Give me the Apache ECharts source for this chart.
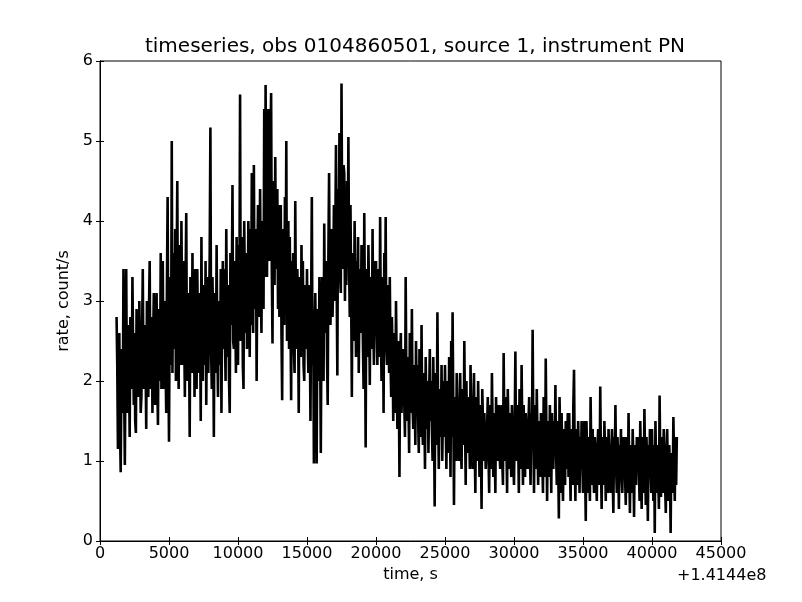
<!DOCTYPE html>
<html>
<head>
<meta charset="utf-8">
<script src="https://cdn.jsdelivr.net/npm/echarts@6/dist/echarts.min.js"></script>
<style>
html,body{margin:0;padding:0;background:#fff;}
#chart{width:802px;height:602px;}
</style>
</head>
<body>
<div id="chart"></div>
<script>
// time bins (s, relative to +1.4144e8)
const tStart = 1200;
const tStep = 50;
// count rate values (count/s), one per 50 s bin (one array per ~1000 s)
const rate01 = [2.8, 2.2, 1.15, 2.5, 2.6, 1.4, 0.86, 2.0, 2.4, 1.6, 3.4, 1.9, 0.95, 2.3, 3.4, 1.8];
const rate02 = [1.6, 2.7, 2.2, 1.3, 2.8, 2.0, 1.9, 3.3, 2.4, 1.7, 2.6, 1.5, 1.35, 2.9, 2.1, 2.5, 1.8, 3.0, 2.3, 1.6];
const rate03 = [1.8, 2.6, 3.4, 2.0, 1.9, 2.7, 2.3, 1.4, 3.0, 2.2, 1.8, 2.9, 3.5, 1.9, 2.0, 2.8, 1.6, 2.5, 3.1, 2.1];
const rate04 = [1.7, 2.7, 3.1, 2.0, 1.45, 2.9, 2.4, 2.0, 3.6, 1.9, 2.6, 3.5, 1.9, 2.8, 3.0, 2.2, 1.6, 3.2, 4.3, 2.3];
const rate05 = [1.24, 2.9, 3.3, 2.2, 5.0, 2.1, 3.6, 2.7, 2.4, 3.9, 2.0, 3.3, 4.5, 2.6, 1.9, 3.7, 3.4, 2.2, 4.0, 2.8];
const rate06 = [2.2, 3.5, 2.6, 1.8, 3.2, 4.1, 2.3, 2.0, 3.1, 2.5, 1.3, 3.3, 2.7, 2.1, 3.6, 2.4, 3.0, 1.8, 3.4, 2.6];
const rate07 = [1.9, 3.4, 2.5, 2.1, 3.1, 2.7, 1.5, 3.8, 2.3, 2.0, 3.2, 2.6, 2.2, 3.5, 1.7, 2.9, 3.3, 2.1, 2.8, 3.6];
const rate08 = [5.17, 2.4, 1.9, 3.3, 2.6, 1.3, 3.1, 2.3, 2.1, 3.7, 2.5, 1.8, 3.0, 2.7, 2.2, 3.4, 1.6, 2.9, 3.5, 2.4];
const rate09 = [3.4, 2.6, 2.0, 3.9, 2.8, 2.3, 3.2, 2.0, 1.6, 3.6, 2.7, 3.1, 4.45, 2.5, 2.4, 3.5, 2.9, 2.1, 3.8, 2.6];
const rate10 = [2.2, 3.7, 3.0, 5.58, 2.5, 2.9, 3.8, 2.2, 1.9, 4.0, 3.1, 2.6, 3.6, 2.4, 2.8, 4.0, 3.3, 2.3, 3.9, 2.7];
const rate11 = [4.6, 3.0, 2.6, 4.7, 2.9, 3.4, 3.9, 2.0, 3.5, 4.2, 2.8, 3.0, 4.4, 3.2, 2.6, 4.0, 3.6, 2.9, 5.4, 3.3];
const rate12 = [5.7, 3.8, 3.3, 4.6, 5.4, 3.6, 3.5, 4.9, 5.6, 3.4, 2.47, 4.5, 4.0, 3.2, 4.8, 3.4, 3.9, 4.4, 2.9, 4.2];
const rate13 = [2.8, 3.7, 4.2, 2.6, 1.76, 3.9, 3.1, 2.7, 4.3, 3.0, 5.0, 2.5, 3.3, 4.0, 2.4, 3.8, 2.9, 1.76, 3.5, 3.0];
const rate14 = [3.6, 2.4, 2.1, 4.25, 2.8, 2.4, 3.4, 2.9, 1.6, 3.3, 2.6, 2.3, 3.7, 2.7, 3.5, 2.2, 2.0, 3.2, 2.8, 2.4];
const rate15 = [3.4, 2.5, 2.1, 3.2, 2.7, 1.5, 3.0, 4.3, 2.2, 2.9, 0.97, 2.6, 3.1, 2.2, 0.97, 2.8, 2.9, 2.0, 3.3, 2.5];
const rate16 = [1.1, 2.7, 3.3, 2.4, 2.0, 3.97, 2.6, 3.1, 3.5, 2.3, 1.7, 3.6, 4.6, 2.9, 2.7, 3.5, 3.9, 2.8, 3.3, 4.2];
const rate17 = [3.0, 3.8, 4.95, 3.2, 2.07, 4.4, 3.6, 5.1, 3.3, 3.1, 5.72, 3.9, 3.4, 4.7, 4.6, 3.0, 4.1, 3.2, 4.5, 3.6];
const rate18 = [5.05, 3.4, 2.8, 4.2, 3.1, 1.8, 3.6, 2.9, 2.5, 4.0, 3.2, 2.3, 3.5, 2.7, 3.8, 2.1, 3.0, 3.4, 2.6, 3.7];
const rate19 = [3.6, 2.5, 1.9, 4.1, 2.8, 1.17, 3.4, 2.7, 2.3, 3.7, 3.0, 1.95, 3.3, 2.6, 2.4, 3.9, 2.8, 2.2, 3.5, 2.9];
const rate20 = [3.5, 2.6, 2.2, 3.4, 2.9, 2.3, 4.05, 2.7, 2.0, 3.3, 2.8, 1.6, 3.6, 2.5, 4.05, 2.4, 2.2, 3.2, 2.8, 2.1];
const rate21 = [3.3, 2.3, 1.8, 2.8, 2.4, 1.5, 2.6, 2.1, 1.6, 3.0, 2.2, 1.4, 2.5, 2.0, 0.8, 2.3, 2.6, 1.6, 2.1, 1.9];
const rate22 = [2.4, 1.7, 1.3, 3.3, 2.0, 1.5, 2.3, 1.8, 1.1, 2.6, 2.0, 1.6, 2.9, 1.7, 1.4, 2.2, 1.9, 1.2, 2.5, 1.8];
const rate23 = [2.2, 1.6, 1.1, 2.4, 1.8, 1.3, 2.7, 1.5, 1.2, 2.1, 1.7, 0.9, 2.3, 1.6, 1.4, 2.0, 1.1, 1.8, 2.4, 1.5];
const rate24 = [2.0, 1.4, 1.0, 2.3, 1.6, 0.43, 2.1, 1.5, 1.2, 2.86, 1.7, 0.9, 1.9, 1.4, 1.3, 2.2, 1.0, 1.6, 2.0, 1.3];
const rate25 = [2.2, 1.5, 0.9, 2.0, 1.4, 1.1, 2.3, 1.6, 0.8, 2.5, 1.3, 2.86, 1.7, 0.45, 1.8, 1.2, 1.0, 2.1, 1.5, 1.3];
const rate26 = [1.0, 1.6, 2.1, 1.2, 0.9, 1.9, 1.4, 1.2, 2.5, 1.5, 0.7, 2.0, 1.3, 1.1, 1.8, 1.4, 0.9, 2.2, 1.6, 1.2];
const rate27 = [0.9, 1.5, 2.1, 1.2, 0.6, 1.8, 1.3, 1.0, 2.0, 1.4, 0.8, 1.7, 1.2, 0.4, 1.9, 1.5, 1.0, 1.6, 1.3, 0.9];
const rate28 = [0.9, 1.4, 1.8, 1.1, 0.6, 1.7, 1.3, 0.9, 2.1, 1.4, 0.8, 1.6, 1.2, 0.6, 1.8, 1.3, 1.0, 1.5, 1.7, 1.1];
const rate29 = [0.9, 1.5, 1.7, 1.0, 0.7, 2.35, 1.3, 1.0, 1.8, 1.2, 0.6, 1.9, 1.4, 0.9, 1.6, 1.2, 0.8, 1.7, 1.3, 1.0];
const rate30 = [0.7, 1.4, 2.37, 1.1, 1.0, 1.7, 1.3, 0.6, 1.9, 1.2, 0.9, 2.2, 1.4, 0.7, 1.7, 1.2, 0.8, 1.6, 1.3, 1.0];
const rate31 = [0.9, 1.5, 1.8, 1.1, 0.7, 1.6, 1.2, 2.64, 1.4, 0.6, 1.7, 1.2, 0.9, 1.9, 1.3, 0.7, 1.5, 1.1, 0.8, 1.6];
const rate32 = [1.6, 1.0, 0.6, 1.8, 1.2, 0.8, 2.28, 1.3, 0.5, 1.5, 1.1, 0.8, 1.7, 1.2, 0.6, 1.6, 1.0, 0.9, 1.5, 1.1];
const rate33 = [1.95, 1.1, 0.7, 1.5, 1.0, 0.28, 1.8, 1.2, 0.6, 1.6, 1.0, 0.5, 1.4, 1.1, 0.7, 1.5, 0.9, 1.2, 1.6, 0.8];
const rate34 = [1.6, 1.0, 0.5, 1.4, 1.1, 0.7, 1.7, 2.14, 1.0, 0.5, 1.4, 1.0, 0.7, 1.5, 1.1, 0.6, 1.3, 0.9, 1.5, 1.0];
const rate35 = [0.6, 1.2, 1.5, 0.9, 0.25, 1.5, 1.1, 0.6, 1.3, 1.0, 0.5, 1.8, 1.1, 0.7, 1.4, 0.9, 0.6, 1.3, 1.0, 0.8];
const rate36 = [0.5, 1.2, 1.4, 0.9, 0.7, 1.93, 1.0, 0.4, 1.3, 1.0, 0.7, 1.5, 1.1, 0.5, 1.3, 0.9, 0.6, 1.4, 1.0, 0.8];
const rate37 = [0.6, 1.1, 1.4, 0.8, 0.35, 1.3, 1.0, 1.7, 0.9, 0.6, 1.3, 1.0, 0.4, 1.2, 0.9, 1.4, 0.8, 0.6, 1.3, 0.9];
const rate38 = [1.3, 0.8, 0.45, 1.3, 1.0, 0.6, 1.6, 0.9, 0.35, 1.2, 0.9, 0.6, 1.4, 1.0, 0.3, 1.2, 0.8, 0.7, 1.3, 0.9];
const rate39 = [1.3, 0.9, 0.5, 1.5, 1.0, 0.4, 1.3, 0.8, 0.6, 1.65, 1.0, 0.45, 1.3, 0.9, 0.25, 1.2, 0.8, 1.4, 0.9, 0.6];
const rate40 = [1.4, 0.9, 0.5, 1.2, 0.1, 1.5, 0.9, 0.6, 1.2, 0.8, 0.4, 1.82, 1.0, 0.55, 1.3, 0.9, 0.6, 1.4, 1.0, 0.7];
const rate41 = [0.35, 1.1, 1.4, 0.8, 0.5, 1.2, 0.9, 0.1, 1.1, 0.8, 0.6, 1.55, 1.0, 0.5, 1.3, 0.7, 1.3];

const xTicks = [0, 5000, 10000, 15000, 20000, 25000, 30000, 35000, 40000, 45000];
const yTicks = [0, 1, 2, 3, 4, 5, 6];

const rates = [].concat(rate01, rate02, rate03, rate04, rate05, rate06, rate07, rate08, rate09, rate10,
  rate11, rate12, rate13, rate14, rate15, rate16, rate17, rate18, rate19, rate20,
  rate21, rate22, rate23, rate24, rate25, rate26, rate27, rate28, rate29, rate30,
  rate31, rate32, rate33, rate34, rate35, rate36, rate37, rate38, rate39, rate40, rate41);
const seriesData = rates.map((v, i) => [tStart + i * tStep, v]);

const FONT = 'DejaVu Sans';
const chart = echarts.init(document.getElementById('chart'), null, {renderer: 'canvas'});
const xCommon = {
  type: 'value', min: xTicks[0], max: xTicks[xTicks.length - 1], interval: 5000,
  axisLine: {show: true, lineStyle: {color: '#000', width: 1}},
  axisTick: {show: true, inside: true, length: 4, lineStyle: {color: '#000'}},
  splitLine: {show: false}
};
const yCommon = {
  type: 'value', min: yTicks[0], max: yTicks[yTicks.length - 1], interval: 1,
  axisLine: {show: true, lineStyle: {color: '#000', width: 1}},
  axisTick: {show: true, inside: true, length: 4, lineStyle: {color: '#000'}},
  splitLine: {show: false}
};
chart.setOption({
  animation: false,
  backgroundColor: '#fff',
  title: [
    {text: 'timeseries, obs 0104860501, source 1, instrument PN', left: 410, textAlign: 'center', top: 32,
     textStyle: {fontFamily: FONT, fontSize: 20, fontWeight: 'normal', color: '#000'}},
    {text: '+1.4144e8', left: 672, top: 563,
     textStyle: {fontFamily: FONT, fontSize: 16, fontWeight: 'normal', color: '#000'}}
  ],
  grid: {left: 100, right: 81, top: 61, bottom: 61, show: true, borderColor: '#000', borderWidth: 1, backgroundColor: '#fff'},
  xAxis: [
    Object.assign({}, xCommon, {
      position: 'bottom',
      axisLabel: {show: true, color: '#000', fontFamily: FONT, fontSize: 16, margin: 5,
                  formatter: v => String(v)},
      name: 'time, s', nameLocation: 'middle', nameGap: 24,
      nameTextStyle: {fontFamily: FONT, fontSize: 16, color: '#000'}
    }),
    Object.assign({}, xCommon, {position: 'top', axisLabel: {show: false}})
  ],
  yAxis: [
    Object.assign({}, yCommon, {
      position: 'left',
      axisLabel: {show: true, color: '#000', fontFamily: FONT, fontSize: 16, margin: 7,
                  formatter: v => String(v)},
      name: 'rate, count/s', nameLocation: 'middle', nameGap: 23,
      nameTextStyle: {fontFamily: FONT, fontSize: 16, color: '#000'}
    }),
    Object.assign({}, yCommon, {position: 'right', axisLabel: {show: false}})
  ],
  series: [{
    type: 'line', data: seriesData, xAxisIndex: 0, yAxisIndex: 0,
    showSymbol: false, symbol: 'none', sampling: 'none',
    lineStyle: {color: '#000', width: 2.6}, itemStyle: {color: '#000'},
    clip: true
  }]
});
</script>
</body>
</html>
